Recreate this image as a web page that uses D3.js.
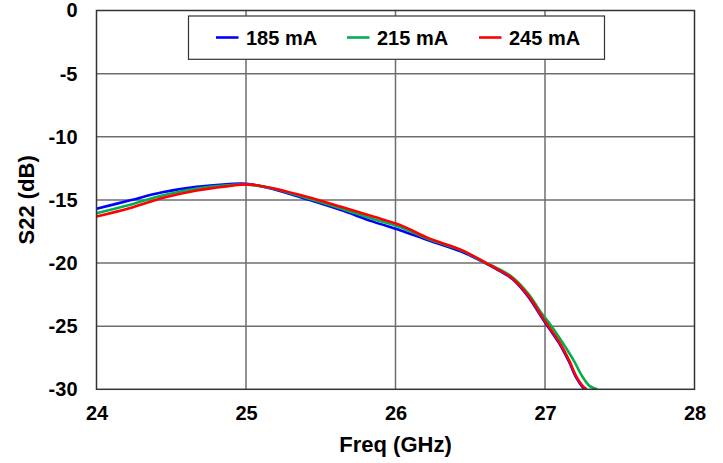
<!DOCTYPE html>
<html><head><meta charset="utf-8">
<script src="https://cdn.jsdelivr.net/npm/d3@7"></script>
<style>body{margin:0;background:#fff}svg{display:block}text{font-family:"Liberation Sans",Arial,sans-serif;font-weight:bold;fill:#000}</style>
</head><body>
<script>
const seriesNames = ["185 mA", "215 mA", "245 mA"];
const seriesColors = ["#0000ff", "#00b050", "#ff0000"];
const xTicks = [24, 25, 26, 27, 28];
const yTicks = [0, -5, -10, -15, -20, -25, -30];
const freq185 = [24.0, 24.22, 24.44, 24.67, 24.89, 25.0, 25.18, 25.40, 25.63, 25.85, 26.03, 26.22, 26.44, 26.6, 26.67, 26.78, 26.89, 26.97, 27.02, 27.10, 27.16, 27.21, 27.25, 27.27];
const s185 = [-15.7, -15.05, -14.4, -13.97, -13.74, -13.72, -14.13, -14.92, -15.79, -16.72, -17.4, -18.2, -19.1, -20.0, -20.45, -21.25, -22.7, -24.15, -25.05, -26.45, -27.8, -29.1, -29.8, -30.0];
const freq215 = [24.0, 24.22, 24.44, 24.67, 24.89, 25.0, 25.18, 25.40, 25.63, 25.85, 26.03, 26.22, 26.44, 26.6, 26.67, 26.78, 26.89, 26.97, 27.04, 27.12, 27.19, 27.25, 27.30, 27.35];
const s215 = [-16.05, -15.4, -14.65, -14.1, -13.82, -13.77, -14.1, -14.83, -15.66, -16.52, -17.15, -18.1, -19.0, -19.96, -20.35, -21.1, -22.45, -23.85, -24.95, -26.35, -27.67, -28.99, -29.75, -30.0];
const freq245 = [24.0, 24.22, 24.44, 24.67, 24.89, 25.0, 25.18, 25.40, 25.63, 25.85, 26.03, 26.22, 26.44, 26.6, 26.67, 26.78, 26.89, 26.97, 27.02, 27.10, 27.16, 27.21, 27.25, 27.28];
const s245 = [-16.32, -15.66, -14.85, -14.25, -13.9, -13.77, -14.07, -14.74, -15.53, -16.32, -16.98, -18.03, -18.96, -19.96, -20.41, -21.2, -22.6, -24.05, -24.95, -26.35, -27.67, -28.99, -29.7, -30.0];

const W = 723, H = 463;
const m = {l: 96.5, r: 694.5, t: 10.5, b: 389.3};
const svg = d3.select("body").append("svg").attr("width", W).attr("height", H);
const x = d3.scaleLinear().domain([24, 28]).range([m.l, m.r]);
const y = d3.scaleLinear().domain([-30, 0]).range([m.b, m.t]);
const fmt = d => String(d);

// grid
svg.append("g").selectAll("line").data(xTicks.slice(1, -1)).join("line")
  .attr("x1", d => x(d)).attr("x2", d => x(d)).attr("y1", m.t).attr("y2", m.b)
  .attr("stroke", "#6e6e6e").attr("stroke-width", 1.5);
svg.append("g").selectAll("line").data(yTicks.slice(1, -1)).join("line")
  .attr("x1", m.l).attr("x2", m.r).attr("y1", d => y(d)).attr("y2", d => y(d))
  .attr("stroke", "#6e6e6e").attr("stroke-width", 1.5);

// axes
const xAxis = svg.append("g").attr("transform", `translate(0,${m.b})`)
  .call(d3.axisBottom(x).tickValues(xTicks).tickSize(0).tickPadding(17).tickFormat(fmt));
xAxis.select(".domain").remove();
xAxis.selectAll("text").style("font-size", "20px").attr("font-family", null);
const yAxis = svg.append("g").attr("transform", `translate(${m.l},0)`)
  .call(d3.axisLeft(y).tickValues(yTicks).tickSize(0).tickPadding(19).tickFormat(fmt));
yAxis.select(".domain").remove();
yAxis.selectAll("text").style("font-size", "20px").attr("font-family", null);

// clip
svg.append("clipPath").attr("id", "clip").append("rect")
  .attr("x", m.l).attr("y", m.t).attr("width", m.r - m.l).attr("height", m.b - m.t);

const data = [
  freq185.map((f, i) => [f, s185[i]]),
  freq215.map((f, i) => [f, s215[i]]),
  freq245.map((f, i) => [f, s245[i]])
];
const line = d3.line().x(d => x(d[0])).y(d => y(d[1])).curve(d3.curveCatmullRom.alpha(0.5));
svg.append("g").attr("clip-path", "url(#clip)").selectAll("path").data(data).join("path")
  .attr("d", line).attr("fill", "none")
  .attr("stroke", (d, i) => seriesColors[i]).attr("stroke-width", 2.6);

// border
svg.append("rect").attr("x", m.l).attr("y", m.t).attr("width", m.r - m.l).attr("height", m.b - m.t)
  .attr("fill", "none").attr("stroke", "#333").attr("stroke-width", 1.5);

// legend
const lg = svg.append("g");
lg.append("rect").attr("x", 188.5).attr("y", 16).attr("width", 416).attr("height", 43.3)
  .attr("fill", "#fff").attr("stroke", "#333").attr("stroke-width", 1.2);
const lx = [216, 347, 479];
seriesNames.forEach((n, i) => {
  lg.append("line").attr("x1", lx[i]).attr("x2", lx[i] + 22.5).attr("y1", 37.5).attr("y2", 37.5)
    .attr("stroke", seriesColors[i]).attr("stroke-width", 2.6);
  lg.append("text").attr("x", lx[i] + 30).attr("y", 37.5).attr("dy", "0.35em")
    .style("font-size", "20px").text(n);
});

// titles
svg.append("text").attr("x", (m.l + m.r) / 2).attr("y", 452).attr("text-anchor", "middle")
  .style("font-size", "22px").text("Freq (GHz)");
svg.append("text").attr("transform", `translate(34,${(m.t + m.b) / 2}) rotate(-90)`)
  .attr("text-anchor", "middle").style("font-size", "22px").text("S22 (dB)");
</script>
</body></html>
